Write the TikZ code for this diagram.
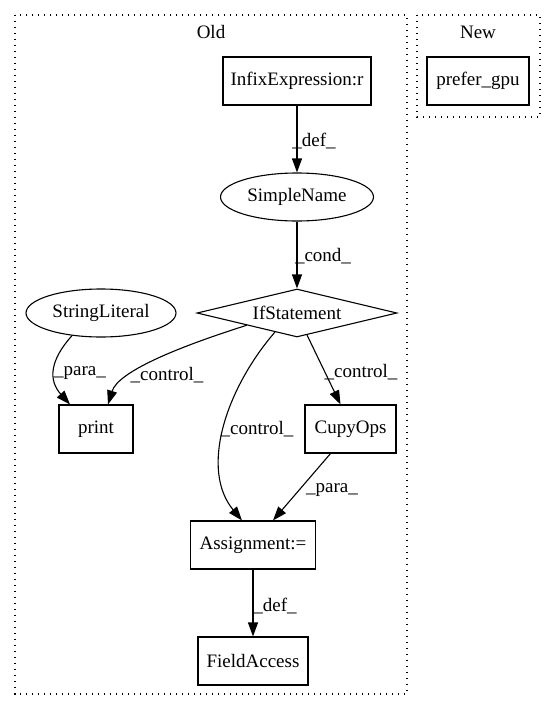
\documentclass[tikz,border=0pt]{standalone}
\usepackage{fontspec}
\setmainfont{Liberation Serif}
\usetikzlibrary{shapes.geometric,arrows.meta,calc}
\tikzset{
  gv/.style={font=\fontsize{19}{22}\selectfont},
  boxnode/.style={gv,draw,rectangle,line width=1.1pt,minimum height=48pt,inner sep=0pt},
  ellnode/.style={gv,draw,ellipse,line width=1.1pt,minimum height=48pt,inner sep=0pt},
  dianode/.style={gv,draw,diamond,line width=1.1pt,minimum width=200pt,minimum height=48pt,inner sep=0pt,aspect=4.17},
  lbl/.style={gv,inner sep=0pt},
  edge/.style={line width=1.1pt,-{Triangle[length=14pt,width=10pt]}},
  cluster/.style={line width=1.2pt,dash pattern=on 1.2pt off 4.8pt}
}
\begin{document}
\begin{tikzpicture}[x=1pt,y=-1pt]
\useasboundingbox (0,0) rectangle (556,712);
\draw[cluster] (15,15) rectangle (407,694);
\draw[cluster] (417,15) rectangle (540,117);
\node[lbl] (oldlbl) at (211,32) {Old};
\node[lbl] (newlbl) at (478,32) {New};

\node[boxnode,minimum width=148pt] (infix) at (297,81) {InfixExpression:r};
\node[boxnode,minimum width=102pt] (pgpu) at (478,81) {prefer\_gpu};
\node[ellnode,minimum width=153pt] (sn) at (297,197) {SimpleName};
\node[dianode] (if) at (297,313) {IfStatement};
\node[ellnode,minimum width=150pt] (sl) at (101,313) {StringLiteral};
\node[boxnode,minimum width=74pt] (print) at (96,429) {print};
\node[boxnode,minimum width=91pt] (cupy) at (350.5,429) {CupyOps};
\node[boxnode,minimum width=125pt] (assign) at (253,545) {Assignment:=};
\node[boxnode,minimum width=110pt] (fa) at (253,661) {FieldAccess};

\draw[edge] (infix) -- (sn);
\draw[edge] (sn) -- (if);
\draw[edge] (if.south west) .. controls (175,348) and (118,372) .. ($(print.north)+(12,0)$);
\draw[edge] ($(if.south)!0.22!(if.west)$) .. controls (225,390) and (200,470) .. ($(assign.north)+(-11,0)$);
\draw[edge] ($(if.south)!0.1!(if.east)$) -- ($(cupy.north)+(-10,0)$);
\draw[edge] (sl.218) .. controls (50,360) and (48,380) .. ($(print.north)+(-26,0)$);
\draw[edge] ($(cupy.south)+(-20,0)$) -- ($(assign.north)+(20,0)$);
\draw[edge] (assign) -- (fa);

\node[lbl] (l1) at (314,141) {\_def\_};
\node[lbl] (l2) at (323,256) {\_cond\_};
\node[lbl] (l3) at (167,375) {\_control\_};
\node[lbl] (l4) at (361,372) {\_control\_};
\node[lbl] (l5) at (257,429) {\_control\_};
\node[lbl] (l6) at (80,373) {\_para\_};
\node[lbl] (l7) at (332,490) {\_para\_};
\node[lbl] (l8) at (275,606) {\_def\_};
\end{tikzpicture}
\end{document}
